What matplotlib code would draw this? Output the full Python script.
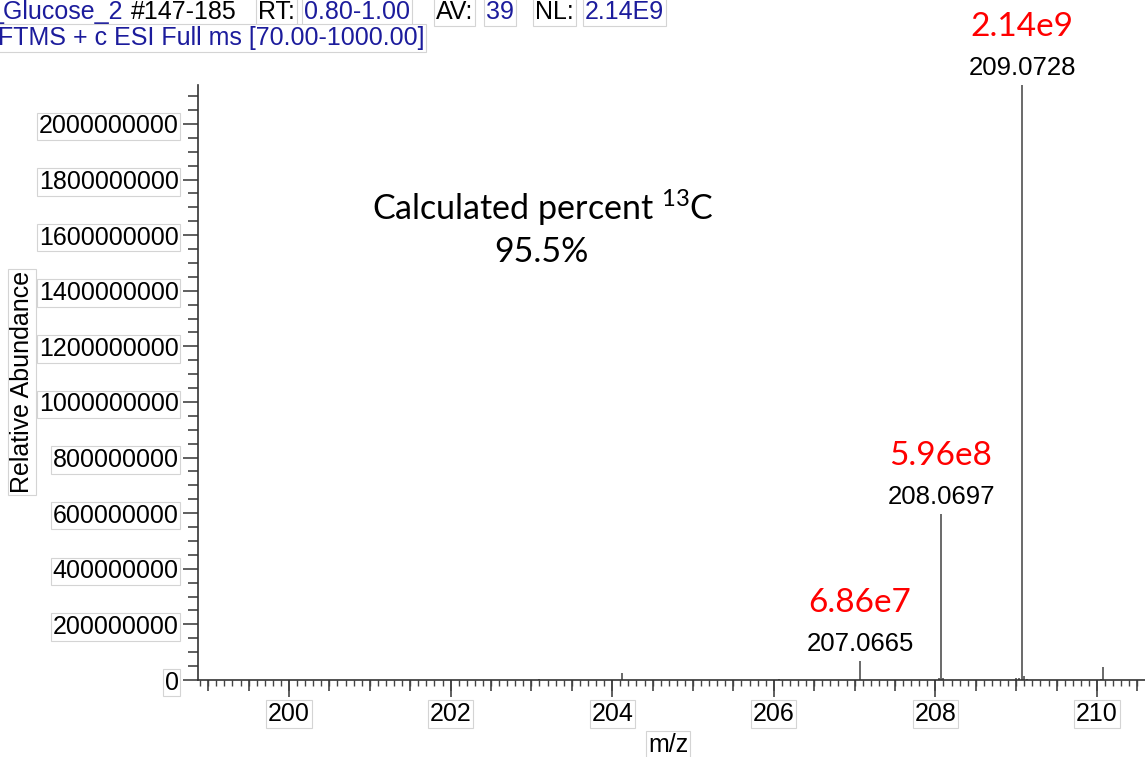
import matplotlib
matplotlib.use("Agg")
import matplotlib.pyplot as plt
from matplotlib.ticker import MultipleLocator

plt.rcParams['font.family'] = ['Liberation Sans', 'DejaVu Sans']
plt.rcParams['mathtext.fontset'] = 'custom'
plt.rcParams['mathtext.rm'] = 'Lato'

# spectrum centroids (m/z, intensity)
mz = [203.10, 204.12, 206.06, 207.0665, 208.04, 208.0697, 208.10,
      209.00, 209.04, 209.0728, 209.10, 209.13, 210.05, 210.076]
intensity = [5e6, 2.5e7, 4e6, 6.86e7, 8e6, 5.96e8, 7e6,
             6e6, 8e6, 2.14e9, 1.4e7, 5e6, 5e6, 4.8e7]

# labelled peaks
label_mz = [207.0665, 208.0697, 209.0728]
label_int = [6.86e7, 5.96e8, 2.14e9]
label_red = ['6.86e7', '5.96e8', '2.14e9']

yticks = [0, 200000000, 400000000, 600000000, 800000000, 1000000000,
          1200000000, 1400000000, 1600000000, 1800000000, 2000000000]
xticks = [200, 202, 204, 206, 208, 210]

W, H = 1145, 757
fig = plt.figure(figsize=(W / 100, H / 100), dpi=100)
ax = fig.add_axes([198 / W, 1 - 680 / H, 1 - 198 / W, (680 - 85) / H])

ax.vlines(mz, 0, intensity, color='#505050', linewidth=1.2)
ax.set_xlim(198.874, 210.594)
ax.set_ylim(0, 2.14e9)

for s in ['top', 'right']:
    ax.spines[s].set_visible(False)
for s in ['left', 'bottom']:
    ax.spines[s].set_color('#333333')
    ax.spines[s].set_linewidth(1.2)

box = dict(facecolor='white', edgecolor='#d4d4d4', linewidth=0.8, pad=1.2)

ax.set_yticks(yticks, [str(v) for v in yticks])
ax.yaxis.set_minor_locator(MultipleLocator(50000000))
ax.tick_params(axis='y', which='major', length=11, width=1.2, color='#444444',
               labelsize=18, pad=3)
ax.tick_params(axis='y', which='minor', length=7.5, width=1.2, color='#444444')

ax.set_xticks(xticks, [str(v) for v in xticks])
ax.xaxis.set_minor_locator(MultipleLocator(0.1))
ax.tick_params(axis='x', which='major', length=12, width=1.2, color='#444444',
               labelsize=18, pad=4)
ax.tick_params(axis='x', which='minor', length=4, width=1.0, color='#444444')

for lbl in ax.get_yticklabels() + ax.get_xticklabels():
    lbl.set_bbox(box)

# medium ticks every 0.5
sec = ax.secondary_xaxis('bottom')
sec.set_xticks([198.5 + 0.5 * i for i in range(26)])
sec.tick_params(axis='x', length=8, width=1.2, color='#444444', labelbottom=False)
sec.spines['bottom'].set_visible(False)

# peak annotations
for x, y, r in zip(label_mz, label_int, label_red):
    ax.annotate(f'{x:.4f}', (x, y), xytext=(0, 12.5), textcoords='offset points',
                ha='center', va='center', fontsize=18.5, color='black')
    ax.annotate(r, (x, y), xytext=(0, 42), textcoords='offset points',
                ha='center', va='center', fontsize=24, color='red',
                family='Lato', annotation_clip=False)

fig.text(543 / W, 1 - 208 / H, r'Calculated percent $\mathregular{^{13}}$C',
         ha='center', va='center', fontsize=24.5, family='Lato')
fig.text(541 / W, 1 - 252 / H, '95.5%', ha='center', va='center',
         fontsize=24.5, family='Lato')

# axis titles
fig.text(22 / W, 1 - 382 / H, 'Relative Abundance', rotation=90,
         ha='center', va='center', fontsize=18, bbox=box)
fig.text(668 / W, 1 - 745 / H, 'm/z', ha='center', va='center',
         fontsize=18, bbox=box)

# header
navy = '#1c1c9c'
y1 = 1 - 12 / H
y2 = 1 - 38 / H
fig.text(-11 / W, y1, '_Glucose_2', ha='left', va='center', fontsize=18,
         color=navy)
fig.text(131 / W, y1, '#147-185', ha='left', va='center', fontsize=18,
         color='black')
header = [(258, 'RT:', 'black'), (304, '0.80-1.00', navy),
          (436, 'AV:', 'black'), (486, '39', navy),
          (535, 'NL:', 'black'), (585, '2.14E9', navy)]
for x, t, c in header:
    fig.text(x / W, y1, t, ha='left', va='center', fontsize=18, color=c, bbox=box)
fig.text(-2 / W, y2, 'FTMS + c ESI Full ms [70.00-1000.00]', ha='left',
         va='center', fontsize=18, color=navy, bbox=box)

fig.savefig('out.png', dpi=100)
